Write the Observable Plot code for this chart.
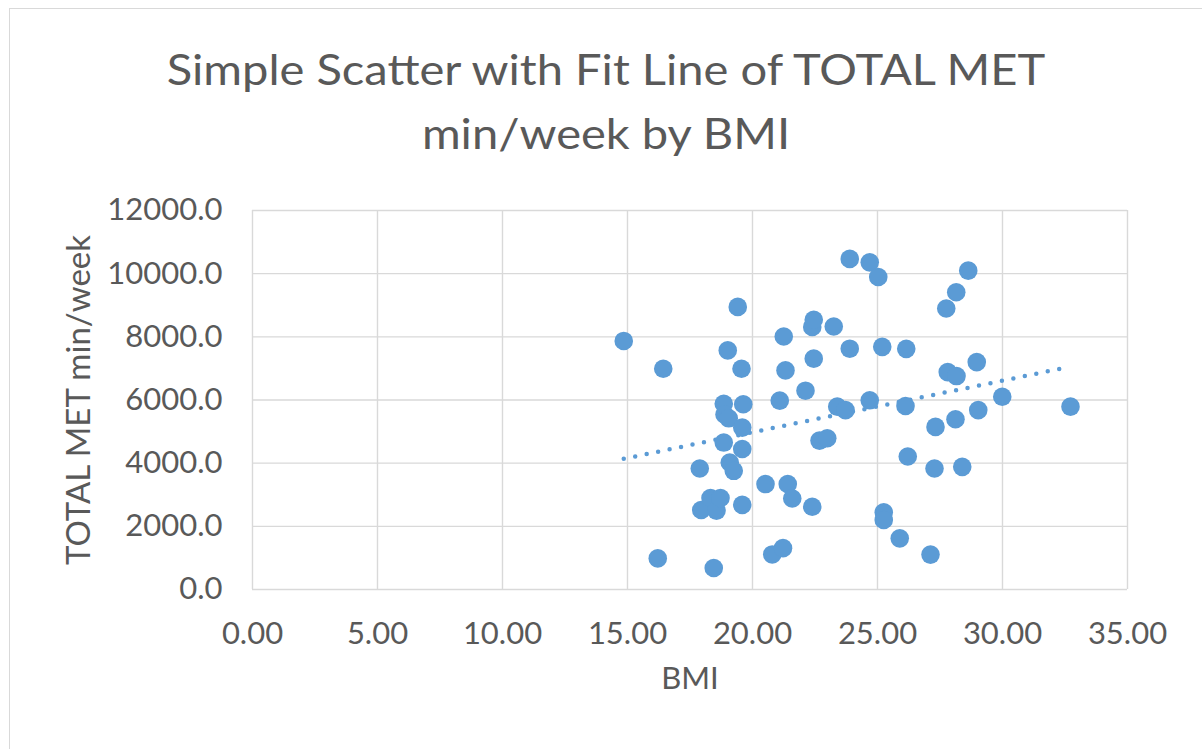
<!DOCTYPE html>
<html><head><meta charset="utf-8">
<script src="https://cdn.jsdelivr.net/npm/d3@7"></script>
<script src="https://cdn.jsdelivr.net/npm/@observablehq/plot@0.6"></script>
<style>
body{margin:0;background:#fff;}
#wrap{position:relative;width:1202px;height:749px;overflow:hidden;font-family:Lato,sans-serif;background:#fff;}
#border{position:absolute;left:9px;top:8px;width:1300px;height:800px;border:1.5px solid #d9d9d9;box-sizing:border-box;}
#title{position:absolute;left:0;width:1212px;top:37px;text-align:center;color:#595959;font-size:43px;line-height:64px;margin:0;font-weight:400;transform:scaleX(1.095);transform-origin:606px 0;}
#chart{position:absolute;left:0;top:0;}
</style></head>
<body>
<div id="wrap">
<div id="border"></div>
<h1 id="title">Simple Scatter with Fit Line of TOTAL MET<br>min/week by BMI</h1>
<div id="chart"></div>
</div>
<script>
const bmi = [14.85,16.43,16.21,17.89,17.95,18.32,18.56,18.72,18.45,18.85,18.88,19.05,18.85,19.09,19.25,19.01,19.41,19.56,19.63,19.59,19.59,19.59,20.52,20.79,21.22,21.09,21.32,21.25,21.41,21.59,22.12,22.39,22.45,22.39,22.45,22.68,22.99,23.25,23.39,23.72,23.89,23.89,24.69,25.03,24.69,25.19,25.25,25.25,25.89,26.15,26.12,26.21,27.12,27.32,27.28,27.75,27.81,28.16,28.15,28.63,28.12,28.39,28.97,29.03,29.99,32.72];
const met = [7870,6990,985,3830,2517,2896,2495,2896,680,5880,5540,5420,4652,4020,3758,7570,8947,6990,5864,5126,4450,2680,3338,1110,1310,5980,6937,8010,3340,2880,6295,2621,7310,8315,8540,4715,4790,8326,5790,5680,7625,10468,10358,9894,5990,7683,2441,2200,1620,7620,5811,4210,1105,5148,3831,8896,6884,6758,9411,10096,5390,3884,7200,5680,6104,5789];
const trendBmi = [14.85, 32.72];
const trendMet = [4140, 7055];
const xTicks = [0,5,10,15,20,25,30,35];
const yTicks = [0,2000,4000,6000,8000,10000,12000];
const xLabel = "BMI";
const yLabel = "TOTAL MET min/week";

const points = bmi.map((b,i)=>({bmi:b, met:met[i]}));
const trend = trendBmi.map((b,i)=>({bmi:b, met:trendMet[i]}));
const blue = "#5b9bd5", grid = "#d9d9d9", txt = "#595959";

const chart = Plot.plot({
  width:1202, height:749,
  marginLeft:252, marginRight:75, marginTop:210, marginBottom:160,
  x:{domain:[0,35]}, y:{domain:[0,12000]},
  style:{fontFamily:"Lato, sans-serif", fontSize:"31px", color:txt, background:"transparent", overflow:"visible"},
  marks:[
    Plot.gridX(xTicks,{stroke:grid, strokeOpacity:1, strokeWidth:1.4}),
    Plot.gridY(yTicks,{stroke:grid, strokeOpacity:1, strokeWidth:1.4}),
    Plot.axisX(xTicks,{tickSize:0, tickPadding:32, tickFormat:d=>d.toFixed(2), label:null, fill:txt}),
    Plot.axisY(yTicks,{tickSize:0, tickPadding:30, tickFormat:d=>d.toFixed(1), label:null, fill:txt}),
    Plot.line(trend,{x:"bmi", y:"met", stroke:blue, strokeWidth:4.5, strokeDasharray:"0,11.7", strokeLinecap:"round"}),
    Plot.dot(points,{x:"bmi", y:"met", r:9.3, fill:blue, stroke:"none"}),
    Plot.text([yLabel],{frameAnchor:"left", textAnchor:"middle", dx:-173, rotate:-90, fill:txt, fontSize:33}),
    Plot.text([xLabel],{frameAnchor:"bottom", textAnchor:"middle", dy:99, fill:txt, fontSize:31})
  ]
});
document.getElementById("chart").appendChild(chart);
</script>
</body></html>
